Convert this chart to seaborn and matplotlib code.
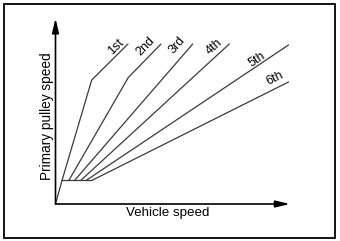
import matplotlib
matplotlib.use("Agg")
import matplotlib.pyplot as plt
from matplotlib.patches import Rectangle
import seaborn as sns
import pandas as pd
import numpy as np

# ---- data (arbitrary units) ----
gears = ["1st", "2nd", "3rd", "4th", "5th", "6th"]
# each gear line: start on the low-speed plateau, optional kink, end
gear_speed = [
    [6.5, 36.2, 72.5],
    [13.3, 72.8, 105.5],
    [19.0, 137.2],
    [25.2, 173.8],
    [30.5, 233.0],
    [36.2, 233.0],
]
gear_pulley = [
    [23.5, 124.0, 160.0],
    [23.5, 126.5, 160.0],
    [23.5, 160.0],
    [23.5, 160.0],
    [23.5, 159.0],
    [23.5, 122.0],
]
# launch path: from rest up to the plateau and along it
launch_speed = [0.0, 6.5, 36.2]
launch_pulley = [0.0, 23.5, 23.5]

rows = []
for g, xs, ys in zip(gears, gear_speed, gear_pulley):
    for i, (x, y) in enumerate(zip(xs, ys)):
        rows.append({"line": g, "order": i, "speed": x, "pulley": y})
for i, (x, y) in enumerate(zip(launch_speed, launch_pulley)):
    rows.append({"line": "launch", "order": i, "speed": x, "pulley": y})
df = pd.DataFrame(rows)

sns.set_theme(style="white")
plt.rcParams["font.family"] = ["Liberation Sans", "DejaVu Sans"]

W, H = 340, 241
fig = plt.figure(figsize=(W / 100, H / 100), dpi=100)
ox, oy = 55.5, 204.0
tipx, tipy = 290.0, 18.3
ax = fig.add_axes([ox / W, 1 - oy / H, (tipx - ox) / W, (oy - tipy) / H])

lines = gears + ["launch"]
sns.lineplot(data=df, x="speed", y="pulley", hue="line", units="line",
             estimator=None, sort=False, hue_order=lines,
             palette=["#3a3a3a"] * len(lines), linewidth=0.9,
             legend=False, ax=ax)

ax.set_xlim(0, tipx - ox)
ax.set_ylim(0, oy - tipy)
for s in ax.spines.values():
    s.set_visible(False)
ax.set_xticks([])
ax.set_yticks([])
ax.set_xlabel("")
ax.set_ylabel("")
ax.patch.set_alpha(0)

arrow = dict(arrowstyle="-|>,head_length=0.85,head_width=0.2", lw=1.2,
             color="black", shrinkA=0, shrinkB=0, mutation_scale=10)
ax.annotate("", xy=(0, 1), xytext=(0, 0), xycoords="axes fraction",
            arrowprops=arrow, annotation_clip=False)
ax.annotate("", xy=(1, 0), xytext=(0, 0), xycoords="axes fraction",
            arrowprops=arrow, annotation_clip=False)

# gear labels placed relative to the end of each line (pixel offsets)
offsets = [(-12.5, -3.0), (-15, -2.5), (-15, -1.5), (-15.3, -2.5), (-31, -14.5), (-13.7, 3.2)]
for g, xs, ys, (dx, dy) in zip(gears, gear_speed, gear_pulley, offsets):
    p0 = ax.transData.transform((xs[-2], ys[-2]))
    p1 = ax.transData.transform((xs[-1], ys[-1]))
    ang = np.degrees(np.arctan2(p1[1] - p0[1], p1[0] - p0[0]))
    ax.annotate(g, xy=(xs[-1], ys[-1]), xytext=(dx, dy),
                textcoords="offset pixels", rotation=ang,
                ha="center", va="center", fontsize=9, color="black")

fig.text(168 / W, 1 - 213 / H, "Vehicle speed", ha="center", va="center",
         fontsize=9.6, color="black")
fig.text(46.7 / W, 1 - 115.7 / H, "Primary pulley speed", ha="center",
         va="center", rotation=90, fontsize=9.8, color="black")

fig.patches.append(Rectangle((4 / W, 1 - 238 / H), 331 / W, 234 / H,
                             transform=fig.transFigure, fill=False,
                             edgecolor="black", lw=1.3))

fig.savefig("out.png", dpi=100)
